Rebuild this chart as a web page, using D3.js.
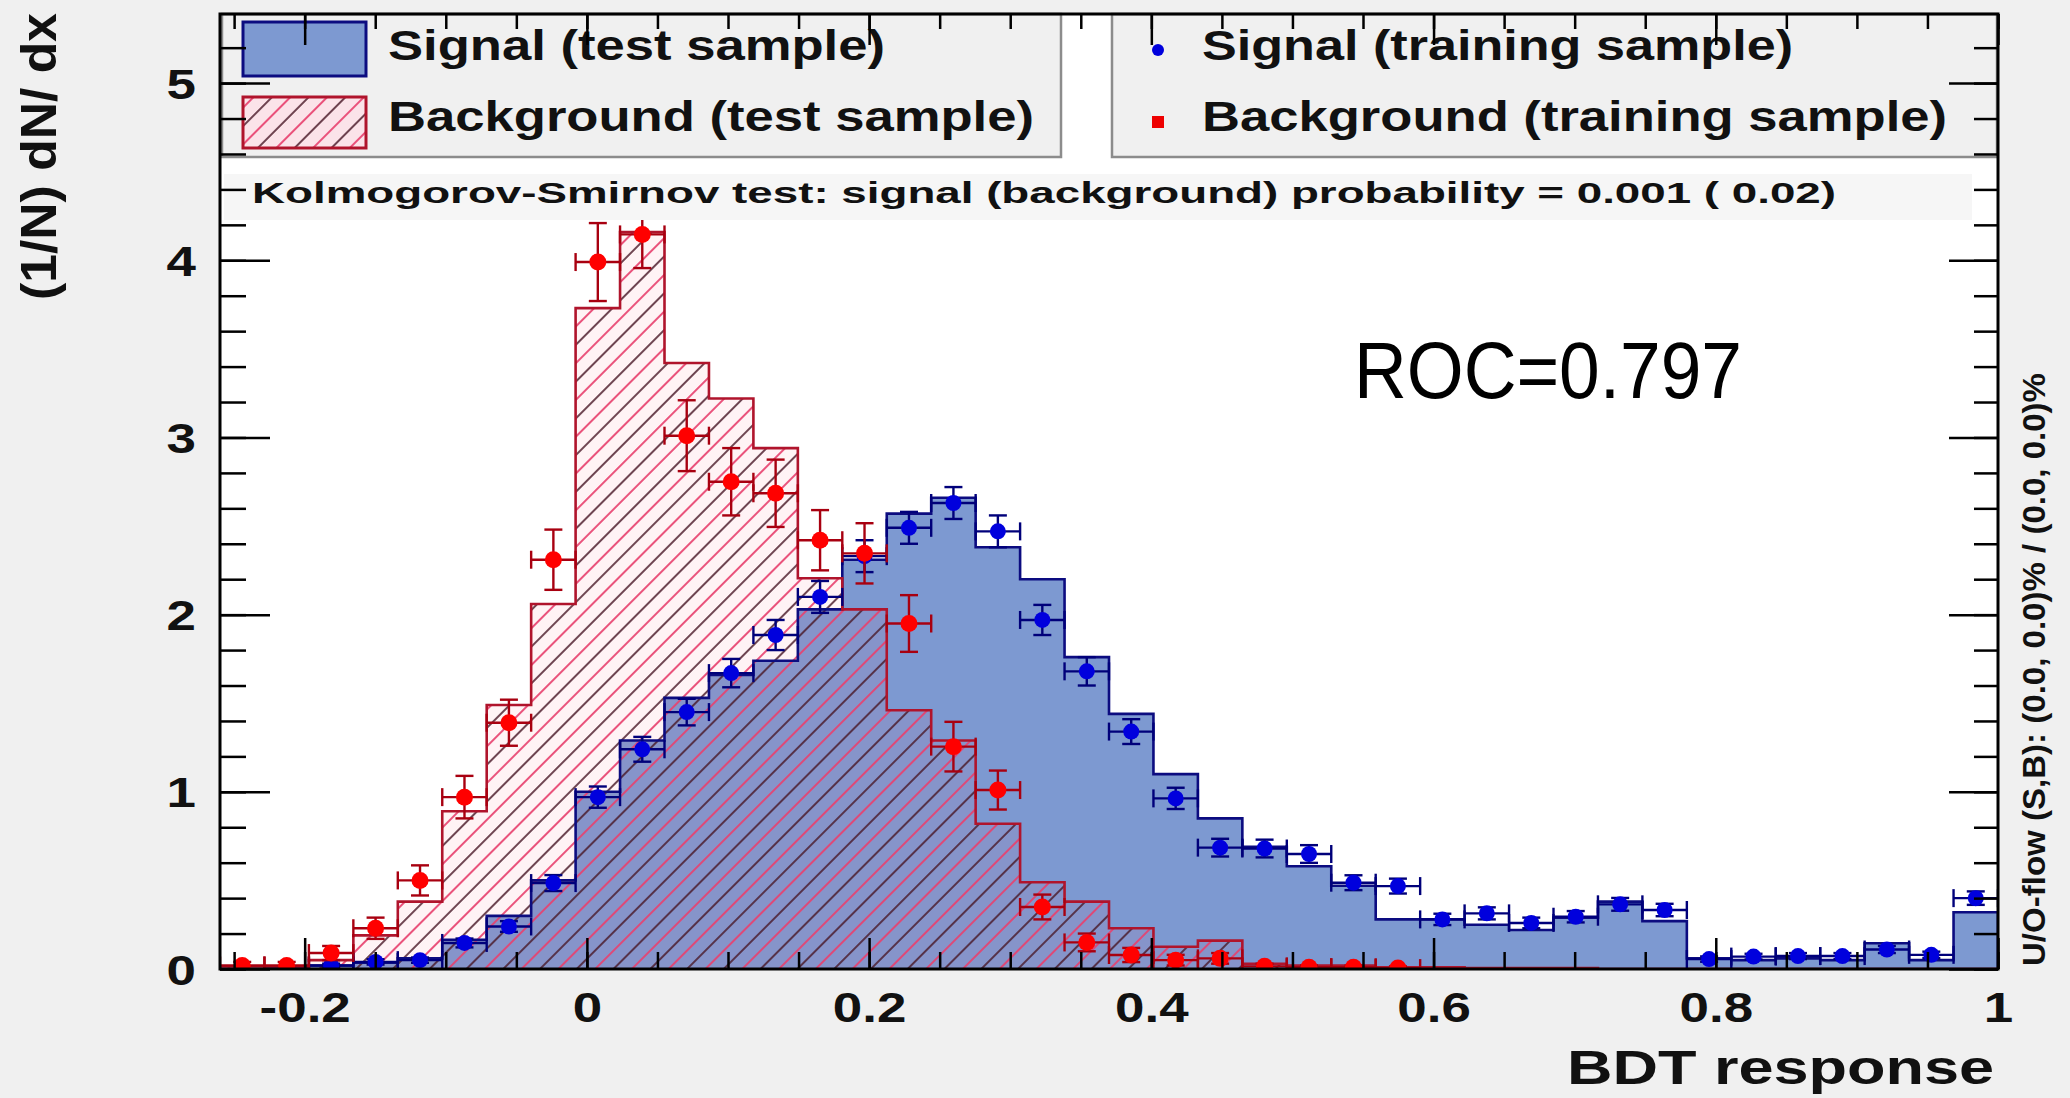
<!DOCTYPE html>
<html>
<head>
<meta charset="utf-8">
<title>BDT response</title>
<script src="https://d3js.org/d3.v7.min.js"></script>
<style>
    body { margin: 0; padding: 0; background: #f0f0f0; }
    svg { display: block; font-family: "Liberation Sans", Arial, sans-serif; }
</style>
</head>
<body>
<svg id="chart" width="2070" height="1098"></svg>
<script>
// ---- DATA ----
const xMin = -0.26, xMax = 1.0, nBins = 40;

// signal, test sample (filled histogram)
const sigTest = [0, 0.005, 0.02, 0.035, 0.06, 0.165, 0.30, 0.50, 1.00, 1.29,
                 1.53, 1.66, 1.74, 2.03, 2.31, 2.57, 2.66, 2.38, 2.20, 1.76,
                 1.44, 1.10, 0.85, 0.69, 0.58, 0.47, 0.28, 0.28, 0.25, 0.22,
                 0.29, 0.38, 0.27, 0.06, 0.05, 0.06, 0.05, 0.145, 0.05, 0.32];
// background, test sample (hatched histogram)
const bgTest = [0.015, 0.015, 0.05, 0.19, 0.38, 0.89, 1.49, 2.06, 3.73, 4.16,
                3.42, 3.22, 2.94, 2.205, 2.03, 1.46, 1.29, 0.82, 0.49, 0.38,
                0.23, 0.126, 0.16, 0.03, 0.02, 0.02, 0.01, 0.01, 0.005, 0.005,
                0.005, 0, 0, 0, 0, 0, 0, 0, 0, 0];
// signal, training sample (points)
const sigTrain = [0, 0, 0.02, 0.04, 0.05, 0.147, 0.24, 0.485, 0.97, 1.24,
                  1.45, 1.67, 1.885, 2.10, 2.33, 2.49, 2.63, 2.47, 1.97, 1.68,
                  1.34, 0.963, 0.685, 0.68, 0.649, 0.487, 0.468, 0.28, 0.314, 0.26,
                  0.295, 0.365, 0.333, 0.056, 0.07, 0.073, 0.073, 0.11, 0.08, 0.40];
const sigTrainErr = [0, 0, 0.01, 0.015, 0.015, 0.025, 0.03, 0.045, 0.06, 0.07,
                     0.075, 0.08, 0.085, 0.09, 0.09, 0.09, 0.09, 0.09, 0.085, 0.08,
                     0.07, 0.06, 0.05, 0.05, 0.05, 0.042, 0.042, 0.032, 0.034, 0.03,
                     0.032, 0.036, 0.035, 0.015, 0.016, 0.017, 0.017, 0.02, 0.018, 0.038];
// background, training sample (points)
const bgTrain = [0.02, 0.02, 0.09, 0.23, 0.50, 0.97, 1.39, 2.31, 3.99, 4.146,
                 3.01, 2.75, 2.685, 2.42, 2.346, 1.95, 1.255, 1.01, 0.35, 0.15,
                 0.079, 0.05, 0.06, 0.015, 0.01, 0.01, 0.005, 0, 0, 0,
                 0, 0, 0, 0, 0, 0, 0, 0, 0, 0];
const bgTrainErr = [0.02, 0.02, 0.04, 0.06, 0.085, 0.12, 0.13, 0.17, 0.22, 0.19,
                    0.20, 0.19, 0.19, 0.17, 0.17, 0.16, 0.14, 0.11, 0.07, 0.05,
                    0.04, 0.03, 0.03, 0.015, 0.01, 0.01, 0.01, 0, 0, 0,
                    0, 0, 0, 0, 0, 0, 0, 0, 0, 0];

const xMajor = [-0.2, 0, 0.2, 0.4, 0.6, 0.8, 1];
const xLabels = ["-0.2", "0", "0.2", "0.4", "0.6", "0.8", "1"];
const yMajor = [0, 1, 2, 3, 4, 5];
const yLabels = ["0", "1", "2", "3", "4", "5"];

const legendLeft = ["Signal (test sample)", "Background (test sample)"];
const legendRight = ["Signal (training sample)", "Background (training sample)"];
const ksText = "Kolmogorov-Smirnov test: signal (background) probability = 0.001 ( 0.02)";
const rocText = "ROC=0.797";
const flowText = "U/O-flow (S,B): (0.0, 0.0)% / (0.0, 0.0)%";

// ---- SETUP ----
const svg = d3.select("#chart");
const frame = { left: 220, right: 1998, top: 14, bottom: 969 };

const x = d3.scaleLinear().domain([xMin, xMax]).range([frame.left, frame.right]);
const y = d3.scaleLinear().domain([0, 5.39]).range([frame.bottom, frame.top]);

const edges = d3.range(nBins + 1).map(i => xMin + i * (xMax - xMin) / nBins);
const centers = d3.range(nBins).map(i => (edges[i] + edges[i + 1]) / 2);

// widen text horizontally (the picture's text is stretched)
function widen(sel, k) {
    sel.each(function() {
        const w = this.getComputedTextLength();
        d3.select(this).attr("textLength", w * k).attr("lengthAdjust", "spacingAndGlyphs");
    });
}

const defs = svg.append("defs");
const hatch = defs.append("pattern")
    .attr("id", "hatch")
    .attr("patternUnits", "userSpaceOnUse")
    .attr("width", 26).attr("height", 26)
    .attr("patternTransform", "rotate(45)");
hatch.append("line").attr("x1", 1).attr("y1", 0).attr("x2", 1).attr("y2", 26)
    .attr("stroke", "#4a1828").attr("stroke-width", 1.6);
hatch.append("line").attr("x1", 14).attr("y1", 0).attr("x2", 14).attr("y2", 26)
    .attr("stroke", "#e8406e").attr("stroke-width", 1.8);

defs.append("clipPath").attr("id", "plotclip")
    .append("rect")
    .attr("x", frame.left).attr("y", frame.top)
    .attr("width", frame.right - frame.left).attr("height", frame.bottom - frame.top);

// plot background
svg.append("rect")
    .attr("x", frame.left).attr("y", frame.top)
    .attr("width", frame.right - frame.left).attr("height", frame.bottom - frame.top)
    .attr("fill", "white");

const plot = svg.append("g").attr("clip-path", "url(#plotclip)");

function histPoints(vals) {
    const pts = [[edges[0], 0]];
    vals.forEach((v, i) => { pts.push([edges[i], v]); pts.push([edges[i + 1], v]); });
    pts.push([edges[nBins], 0]);
    return pts;
}
const histLine = d3.line().x(d => x(d[0])).y(d => y(d[1]));

// signal test: filled
plot.append("path").attr("d", histLine(histPoints(sigTest)))
    .attr("fill", "#7d99d1").attr("stroke", "none");
// background test: faint pink tint + hatch
plot.append("path").attr("d", histLine(histPoints(bgTest)))
    .attr("fill", "#ff5078").attr("fill-opacity", 0.07).attr("stroke", "none");
plot.append("path").attr("d", histLine(histPoints(bgTest)))
    .attr("fill", "url(#hatch)").attr("stroke", "none");
// outlines
plot.append("path").attr("d", histLine(histPoints(sigTest)))
    .attr("fill", "none").attr("stroke", "#0c0c80").attr("stroke-width", 2.6);
plot.append("path").attr("d", histLine(histPoints(bgTest)))
    .attr("fill", "none").attr("stroke", "#b0142c").attr("stroke-width", 2.6);

// ---- LEGENDS & TEXT ----
svg.append("rect").attr("x", 222).attr("y", 14).attr("width", 839).attr("height", 143)
    .attr("fill", "#f0f0f0").attr("stroke", "#8c8c8c").attr("stroke-width", 2.5);
svg.append("rect").attr("x", 1112).attr("y", 14).attr("width", 885).attr("height", 143)
    .attr("fill", "#f0f0f0").attr("stroke", "#8c8c8c").attr("stroke-width", 2.5);

svg.append("rect").attr("x", 243).attr("y", 22).attr("width", 123).attr("height", 54)
    .attr("fill", "#7d99d1").attr("stroke", "#0c0c80").attr("stroke-width", 3);
svg.append("rect").attr("x", 243).attr("y", 97).attr("width", 123).attr("height", 51)
    .attr("fill", "#fbe3e9").attr("stroke", "none");
svg.append("rect").attr("x", 243).attr("y", 97).attr("width", 123).attr("height", 51)
    .attr("fill", "url(#hatch)").attr("stroke", "#b0142c").attr("stroke-width", 3);

svg.append("circle").attr("cx", 1158).attr("cy", 50).attr("r", 6).attr("fill", "#0000dd");
svg.append("rect").attr("x", 1152).attr("y", 116).attr("width", 12).attr("height", 12).attr("fill", "#ee0000");

const legendWidths = [[497, 646], [591, 745]];
const baselines = [60, 131];
[legendLeft, legendRight].forEach((col, c) => {
    col.forEach((t, r) => {
        svg.append("text")
            .attr("x", c === 0 ? 388 : 1202).attr("y", baselines[r])
            .attr("font-size", 42).attr("font-weight", "bold").attr("fill", "#111")
            .attr("textLength", legendWidths[c][r]).attr("lengthAdjust", "spacingAndGlyphs")
            .text(t);
    });
});

// faint band behind the KS line
svg.append("rect").attr("x", 224).attr("y", 174).attr("width", 1748).attr("height", 46)
    .attr("fill", "#f6f6f6");
svg.append("text").attr("x", 252).attr("y", 203)
    .attr("font-size", 30).attr("font-weight", "bold").attr("fill", "#111")
    .attr("textLength", 1584).attr("lengthAdjust", "spacingAndGlyphs")
    .text(ksText);

svg.append("text").attr("x", 1354).attr("y", 398)
    .attr("font-size", 80).attr("fill", "black")
    .attr("textLength", 388).attr("lengthAdjust", "spacingAndGlyphs")
    .text(rocText);

// ---- TRAINING POINTS ----
function drawPoints(vals, errs, fill, lineCol, r) {
    const pts = vals.map((v, i) => ({ c: centers[i], lo: edges[i], hi: edges[i + 1], v: v, e: errs[i] }))
        .filter(d => d.v > 0);
    const g = plot.append("g").attr("stroke", lineCol).attr("stroke-width", 2.4);
    // horizontal bar across the bin with end caps
    g.selectAll("line.h").data(pts).join("line").attr("class", "h")
        .attr("x1", d => x(d.lo)).attr("x2", d => x(d.hi))
        .attr("y1", d => y(d.v)).attr("y2", d => y(d.v));
    g.selectAll("line.hc1").data(pts).join("line").attr("class", "hc1")
        .attr("x1", d => x(d.lo)).attr("x2", d => x(d.lo))
        .attr("y1", d => y(d.v) - 9).attr("y2", d => y(d.v) + 9);
    g.selectAll("line.hc2").data(pts).join("line").attr("class", "hc2")
        .attr("x1", d => x(d.hi)).attr("x2", d => x(d.hi))
        .attr("y1", d => y(d.v) - 9).attr("y2", d => y(d.v) + 9);
    // vertical error bar with caps
    const ep = pts.filter(d => d.e > 0);
    g.selectAll("line.v").data(ep).join("line").attr("class", "v")
        .attr("x1", d => x(d.c)).attr("x2", d => x(d.c))
        .attr("y1", d => y(d.v + d.e)).attr("y2", d => y(Math.max(0, d.v - d.e)));
    g.selectAll("line.c1").data(ep).join("line").attr("class", "c1")
        .attr("x1", d => x(d.c) - 9).attr("x2", d => x(d.c) + 9)
        .attr("y1", d => y(d.v + d.e)).attr("y2", d => y(d.v + d.e));
    g.selectAll("line.c2").data(ep.filter(d => d.v - d.e > 0)).join("line").attr("class", "c2")
        .attr("x1", d => x(d.c) - 9).attr("x2", d => x(d.c) + 9)
        .attr("y1", d => y(d.v - d.e)).attr("y2", d => y(d.v - d.e));
    g.selectAll("circle").data(pts).join("circle")
        .attr("cx", d => x(d.c)).attr("cy", d => y(d.v))
        .attr("r", r)
        .attr("fill", fill).attr("stroke", "none");
}
drawPoints(sigTrain, sigTrainErr, "#0000dd", "#00007a", 8);
drawPoints(bgTrain, bgTrainErr, "#ff0000", "#a80010", 8.5);

// ---- AXES ----
const xMinor = d3.range(-0.25, 1.0001, 0.05);
const yMinor = d3.range(0, 5.3, 0.2);

function styleAxis(g) {
    g.select(".domain").remove();
    g.selectAll("line").attr("stroke", "black").attr("stroke-width", 2.5);
    g.selectAll("text").attr("fill", "#111").attr("font-size", 42).attr("font-weight", "bold")
        .attr("font-family", "Liberation Sans, Arial, sans-serif");
}

const gxb = svg.append("g").attr("transform", `translate(0,${frame.bottom})`)
    .call(d3.axisBottom(x).tickValues(xMajor).tickSize(-31).tickFormat((d, i) => xLabels[i]))
    .call(styleAxis);
gxb.selectAll("text").attr("y", 53).attr("dy", null);
widen(gxb.selectAll("text"), 1.26);
svg.append("g").attr("transform", `translate(0,${frame.bottom})`)
    .call(d3.axisBottom(x).tickValues(xMinor).tickSize(-17).tickFormat(""))
    .call(styleAxis);

svg.append("g").attr("transform", `translate(0,${frame.top})`)
    .call(d3.axisTop(x).tickValues(xMajor).tickSize(-31).tickFormat(""))
    .call(styleAxis);
svg.append("g").attr("transform", `translate(0,${frame.top})`)
    .call(d3.axisTop(x).tickValues(xMinor).tickSize(-15).tickFormat(""))
    .call(styleAxis);

const gyl = svg.append("g").attr("transform", `translate(${frame.left},0)`)
    .call(d3.axisLeft(y).tickValues(yMajor).tickSize(-50).tickFormat((d, i) => yLabels[i]))
    .call(styleAxis);
gyl.selectAll("text").attr("x", -24).attr("y", 15).attr("dy", null);
widen(gyl.selectAll("text"), 1.26);
svg.append("g").attr("transform", `translate(${frame.left},0)`)
    .call(d3.axisLeft(y).tickValues(yMinor).tickSize(-26).tickFormat(""))
    .call(styleAxis);

svg.append("g").attr("transform", `translate(${frame.right},0)`)
    .call(d3.axisRight(y).tickValues(yMajor).tickSize(-49).tickFormat(""))
    .call(styleAxis);
svg.append("g").attr("transform", `translate(${frame.right},0)`)
    .call(d3.axisRight(y).tickValues(yMinor).tickSize(-24).tickFormat(""))
    .call(styleAxis);

// frame
svg.append("rect")
    .attr("x", frame.left).attr("y", frame.top)
    .attr("width", frame.right - frame.left).attr("height", frame.bottom - frame.top)
    .attr("fill", "none").attr("stroke", "black").attr("stroke-width", 3);

// axis titles
svg.append("text").attr("x", 1994).attr("y", 1084)
    .attr("text-anchor", "end").attr("font-size", 48).attr("font-weight", "bold").attr("fill", "#111")
    .attr("textLength", 427).attr("lengthAdjust", "spacingAndGlyphs")
    .text("BDT response");

svg.append("text").attr("transform", "translate(56,13) rotate(-90)")
    .attr("text-anchor", "end").attr("font-size", 50).attr("font-weight", "bold").attr("fill", "#111")
    .attr("textLength", 287).attr("lengthAdjust", "spacingAndGlyphs")
    .text("(1/N) dN/ dx");

svg.append("text").attr("transform", "translate(2045,966) rotate(-90)")
    .attr("text-anchor", "start").attr("font-size", 31).attr("font-weight", "bold").attr("fill", "#111")
    .attr("textLength", 593).attr("lengthAdjust", "spacingAndGlyphs")
    .text(flowText);
</script>
</body>
</html>
